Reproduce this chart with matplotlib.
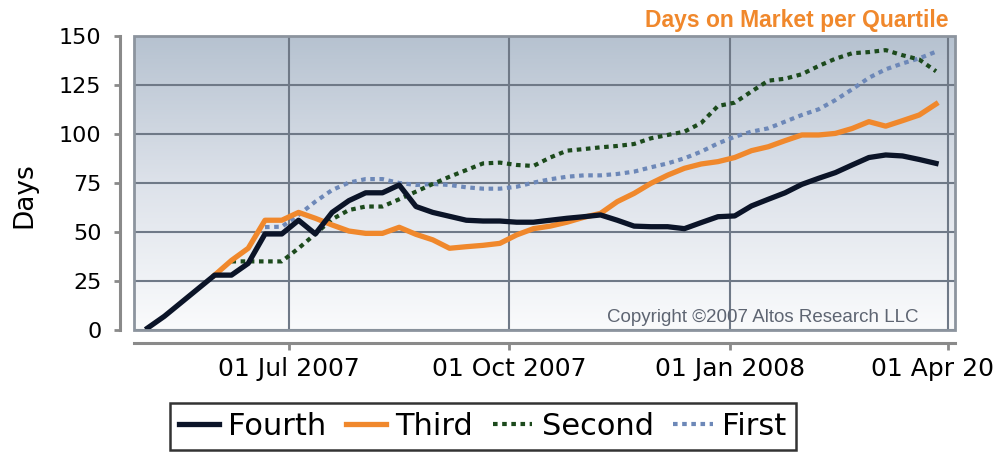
import numpy as np
import pandas as pd
import matplotlib
matplotlib.use("Agg")
import matplotlib.pyplot as plt
import matplotlib.dates as mdates
from matplotlib.colors import LinearSegmentedColormap
from matplotlib.patches import Rectangle

# weekly observations
dates = pd.date_range("2007-05-03", periods=48, freq="7D")
nan = np.nan

fourth = [1, 7, 14, 21, 28, 28, 34, 49, 49, 56,
          49, 60, 66, 70, 70, 74, 63, 60, 58, 56,
          55.6, 55.6, 55, 55, 56, 57, 57.8, 58.7, 56, 53,
          52.7, 52.7, 51.7, 54.8, 57.8, 58.2, 63.3, 66.7, 70, 74.3,
          77.4, 80.3, 84.2, 88, 89.3, 88.8, 87, 85]
third = [nan, nan, nan, nan, 28, 35.5, 41.7, 56, 56, 60,
         57, 53.6, 50.5, 49.3, 49.3, 52.4, 48.8, 46, 41.7, 42.5,
         43.2, 44.2, 48.5, 51.7, 53, 55, 57.5, 59.5, 65.5, 69.7,
         74.8, 79, 82.5, 84.7, 85.9, 88, 91.5, 93.5, 96.6, 99.5,
         99.5, 100.3, 102.8, 106.3, 104, 106.8, 109.7, 115.3]
second = [nan, nan, nan, nan, nan, 35, 35, 35, 35, 41.7,
          49, 56.5, 61.2, 63, 63, 66.7, 70.6, 74.5, 78.2, 81.6,
          85, 85.4, 84.2, 83.7, 88, 91.5, 92.3, 93.2, 93.9, 94.9,
          97.8, 99.5, 101.2, 105.6, 114.3, 116, 121.7, 127.2, 128.2, 130.5,
          134.7, 138.4, 141.2, 141.8, 142.8, 140.2, 138, 132]
first = [nan, nan, nan, nan, nan, nan, nan, 52.5, 52.7, 58.7,
         65.5, 71.4, 75.2, 77, 77, 75, 74, 74.5, 74, 72.8,
         72.1, 72.1, 73.1, 75.2, 76.9, 78.2, 78.9, 78.9, 79.6, 80.8,
         83, 85, 87.6, 91, 95.2, 98.6, 101.2, 102.9, 106.3, 109.7,
         112.6, 117.3, 122.8, 128.7, 133, 136, 138.6, 142]

month_ticks = pd.to_datetime(["2007-07-01", "2007-10-01", "2008-01-01", "2008-04-01"])

fig = plt.figure(figsize=(9.95, 4.55), dpi=100)
ax = fig.add_axes([134 / 995, 1 - 330 / 455, 821 / 995, 294 / 455])

# background gradient of the plot area
cmap = LinearSegmentedColormap.from_list("bg", ["#b6c2d0", "#dde2ea", "#fafbfc"])
grad = np.linspace(0, 1, 256).reshape(-1, 1)
ax.imshow(grad, cmap=cmap, aspect="auto", extent=[0, 1, 0, 1],
          transform=ax.transAxes, zorder=0, origin="upper")

ax.plot(dates, fourth, color="#0b1428", lw=3.8, label="Fourth", zorder=5)
ax.plot(dates, third, color="#f0882c", lw=3.8, label="Third", zorder=4)
ax.plot(dates, second, color="#1c4a1c", lw=3, ls=(0, (1.1, 1.1)), label="Second", zorder=3)
ax.plot(dates, first, color="#6d88b8", lw=3, ls=(0, (1.1, 1.1)), label="First", zorder=2)

ax.set_xlim(mdates.date2num(pd.Timestamp("2007-04-27 08:00")),
            mdates.date2num(pd.Timestamp("2008-04-03 22:00")))
ax.set_ylim(0, 150)
ax.set_yticks([0, 25, 50, 75, 100, 125, 150])
ax.set_xticks(month_ticks)
ax.xaxis.set_major_formatter(mdates.DateFormatter("%d %b %Y"))

ax.grid(True, color="#6f7987", lw=1.5, zorder=1)
for line in ax.get_xgridlines() + ax.get_ygridlines():
    line.set_zorder(1)

for s in ["top", "right"]:
    ax.spines[s].set_visible(False)
ax.add_patch(Rectangle((0, 0), 1, 1, transform=ax.transAxes, fill=False,
                       edgecolor="#8c949e", lw=2, zorder=6, clip_on=False))
ax.spines["left"].set_position(("outward", 10))
ax.spines["bottom"].set_position(("outward", 9.5))
for s in ["left", "bottom"]:
    ax.spines[s].set_color("#8a8a8a")
    ax.spines[s].set_linewidth(2.2)

ax.tick_params(axis="y", direction="out", length=4.5, width=2, color="#8a8a8a",
               labelsize=16, pad=9)
ax.tick_params(axis="x", direction="out", length=5, width=2, color="#8a8a8a",
               labelsize=18, pad=5)

ax.set_ylabel("Days", fontsize=19)
ax.yaxis.set_label_coords(-0.118, 0.46)

fig.text(949 / 995, 1 - 21 / 455, "Days on Market per Quartile", ha="right", va="center",
         fontsize=16.5, fontweight="bold", color="#f0882c", family="Liberation Sans")
fig.text(919 / 995, 1 - 318 / 455, "Copyright \u00a92007 Altos Research LLC", ha="right",
         va="center", fontsize=13.5, color="#5e6572", family="Liberation Sans", zorder=7)

leg = fig.legend(loc="upper left", bbox_to_anchor=(170 / 995, 1 - 403 / 455), ncol=4,
                 fontsize=22, frameon=True, fancybox=False, edgecolor="black",
                 handlelength=1.3, handletextpad=0.3, columnspacing=0.65,
                 borderpad=0.3, borderaxespad=0)
leg.get_frame().set_linewidth(1.8)

fig.savefig("out.png", dpi=100)
